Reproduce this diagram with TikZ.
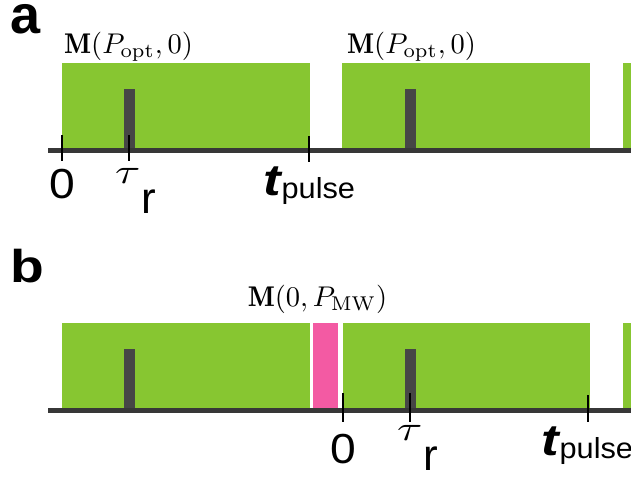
\documentclass[tikz,border=0pt]{standalone}
\usepackage{fontspec}
\usepackage{graphicx}
\newfontfamily\lsans{Liberation Sans}
\definecolor{grn}{RGB}{135,198,49}
\definecolor{barc}{RGB}{70,70,70}
\definecolor{axisc}{RGB}{55,55,55}
\definecolor{pnk}{RGB}{243,90,163}
\newcommand{\tlab}{\raisebox{0pt}[0pt][0pt]{\scalebox{4.6}[3.5]{$\tau$}}\kern1pt\raisebox{-30pt}[0pt][0pt]{\lsans\fontsize{44}{44}\selectfont r}}
\newcommand{\plab}{\raisebox{0pt}[0pt][0pt]{\scalebox{1.2}[1]{\lsans\bfseries\itshape\fontsize{44}{44}\selectfont t}}\kern1pt\raisebox{-3pt}[0pt][0pt]{\scalebox{1.06}[1]{\lsans\fontsize{29}{29}\selectfont pulse}}}
\begin{document}
\begin{tikzpicture}[x=1pt,y=-1pt,
  laser/.style={fill=grn},
  mwpulse/.style={fill=pnk},
  readbar/.style={fill=barc},
  timeaxis/.style={draw=axisc,line width=5pt},
  tickmark/.style={draw=black,line width=2pt},
  lbl/.style={inner sep=0pt,outer sep=0pt},
  panel/.style={inner sep=0pt,anchor=base west},
  mlabel/.style={inner sep=0pt,anchor=base},
  zlabel/.style={inner sep=0pt,anchor=base,font=\lsans\fontsize{42}{42}\selectfont}
]
\useasboundingbox (0,0) rectangle (631,477);
% ---------------- panel a
\node[panel,font=\lsans\bfseries\fontsize{54}{54}\selectfont] (pa) at (10,33) {\raisebox{0pt}[28pt][0pt]{a}};
\fill[laser] (62,63) rectangle (310,150);
\fill[laser] (342,63) rectangle (590,150);
\fill[laser] (623,63) rectangle (631,150);
\fill[readbar] (124,89) rectangle (135,150);
\fill[readbar] (405,89) rectangle (416,150);
\draw[timeaxis] (48,150.5) -- (631,150.5);
\draw[tickmark] (62,135) -- (62,161);
\draw[tickmark] (129,135) -- (129,161);
\draw[tickmark] (308.5,136) -- (308.5,162);
\node[mlabel] (ma1) at (128.5,53) {\scalebox{2.85}{$\mathbf{M}(P_{\mathrm{opt}},0)$}};
\node[mlabel] (ma2) at (411.5,53) {\scalebox{2.85}{$\mathbf{M}(P_{\mathrm{opt}},0)$}};
\node[zlabel] (za) at (62.5,198) {\scalebox{1.1}[1]{0}};
\node[lbl,anchor=base west] (ta) at (115,183) {\tlab};
\node[lbl,anchor=base west] (pa1) at (263,195) {\plab};
% ---------------- panel b
\node[panel,font=\lsans\bfseries\fontsize{46}{46}\selectfont] (pb) at (10,282) {\scalebox{1.2}[1]{b}};
\fill[laser] (62,323) rectangle (310,411);
\fill[mwpulse] (313,323) rectangle (338,411);
\fill[laser] (343,323) rectangle (590,411);
\fill[laser] (623,323) rectangle (631,411);
\fill[readbar] (124,349) rectangle (135,411);
\fill[readbar] (405,349) rectangle (416,411);
\draw[timeaxis] (48,410.5) -- (631,410.5);
\draw[tickmark] (343,393) -- (343,422);
\draw[tickmark] (410,393) -- (410,422);
\draw[tickmark] (588,395) -- (588,422);
\node[mlabel] (mb) at (317.5,306) {\scalebox{2.85}{$\mathbf{M}(0,P_{\mathrm{MW}})$}};
\node[zlabel] (zb) at (343.5,463) {\scalebox{1.1}[1]{0}};
\node[lbl,anchor=base west] (tb) at (397,440) {\tlab};
\node[lbl,anchor=base west] (pb1) at (541,455) {\plab};
\end{tikzpicture}
\end{document}
